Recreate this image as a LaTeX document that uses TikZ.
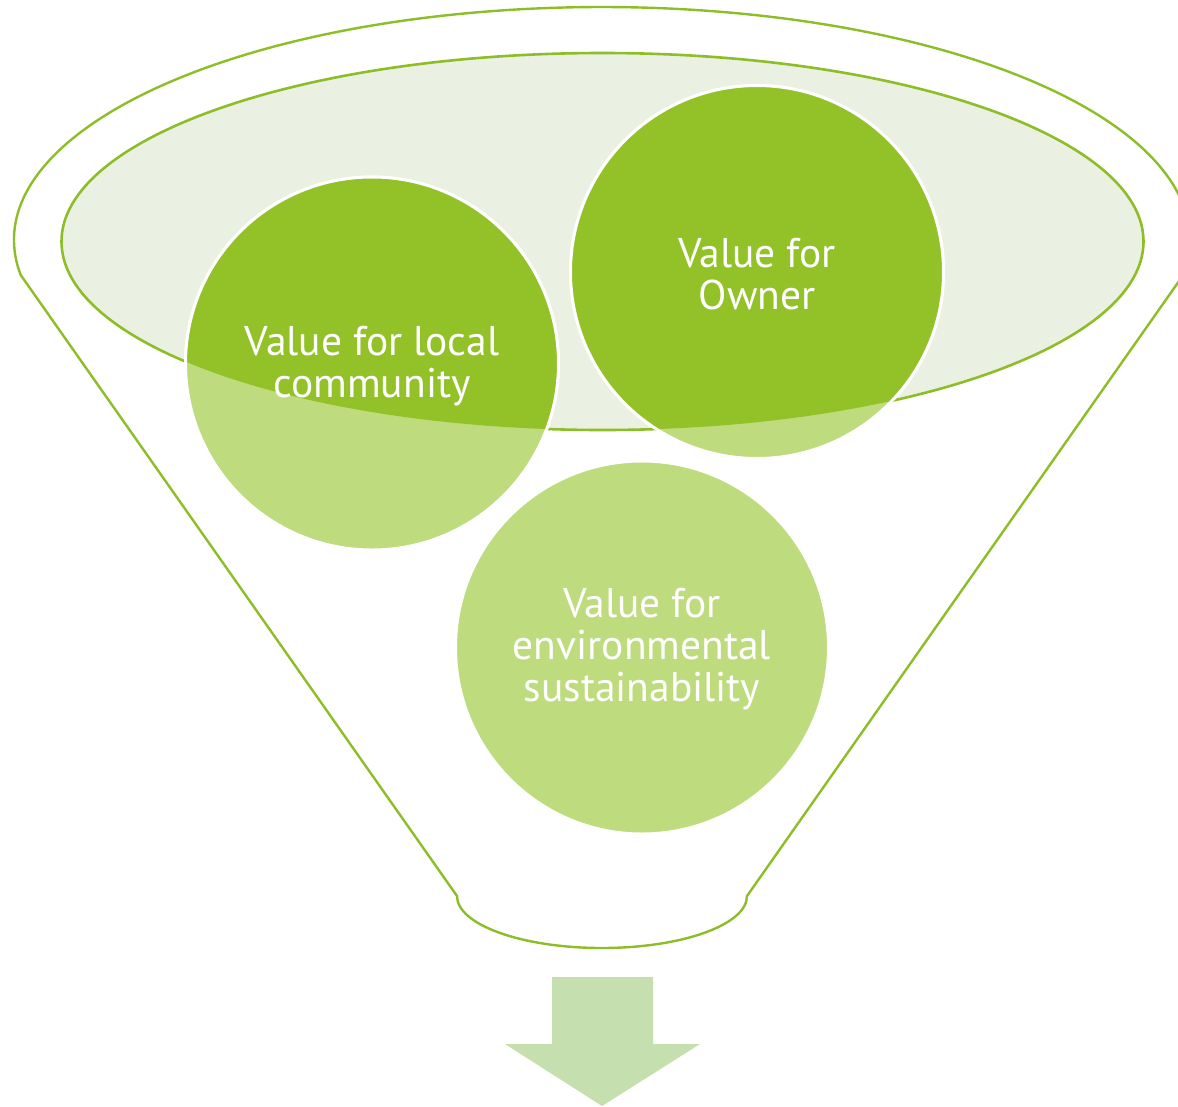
\documentclass[tikz,border=0pt]{standalone}
\usepackage{fontspec}
\setmainfont{PT Sans}
\definecolor{funnelline}{RGB}{141,190,40}
\definecolor{darkgreen}{RGB}{146,193,40}
\definecolor{lightgreen}{RGB}{190,219,126}
\definecolor{ellfill}{RGB}{234,241,226}
\definecolor{arrowfill}{RGB}{198,223,175}
\tikzset{
  funnel/.style={draw=funnelline, line width=2.4pt, line join=round},
  innerell/.style={draw=funnelline, fill=ellfill, line width=2.6pt},
  lightcirc/.style={circle, minimum size=373pt, inner sep=0pt, fill=lightgreen, draw=white, line width=3pt},
  darkcirc/.style={circle, minimum size=373pt, inner sep=0pt, fill=darkgreen, draw=white, line width=3pt},
  label/.style={text=white, align=center, font=\fontsize{41.5}{42}\selectfont, inner sep=0pt}
}
\begin{document}
\begin{tikzpicture}[x=1pt,y=-1pt]
\useasboundingbox (0,0) rectangle (1178,1106);
% outer funnel outline
\draw[funnel] (20.7,275) arc[start angle=188.64, end angle=-8.64, x radius=588pt, y radius=233pt]
  -- (747,896) arc[start angle=0, end angle=-180, x radius=145pt, y radius=52pt] -- cycle;
% inner ellipse (funnel mouth)
\draw[innerell] (602.5,241.5) ellipse [x radius=541pt, y radius=188.5pt];
% circles (light, outside the mouth)
\node[lightcirc] (cl) at (372,363.5) {};
\node[lightcirc] (co) at (757,272) {};
\node[lightcirc] (ce) at (642,647.5) {};
% circles (dark, inside the mouth)
\begin{scope}
  \clip (602.5,241.5) ellipse [x radius=541pt, y radius=188.5pt];
  \node[darkcirc] (cld) at (372,363.5) {};
  \node[darkcirc] (cod) at (757,272) {};
  \node[darkcirc] (ced) at (642,647.5) {};
\end{scope}
% labels
\node[label] (tl) at (372,366) {Value for local\\community};
\node[label] (to) at (757,274) {Value for\\Owner};
\node[label] (te) at (642,649) {Value for\\environmental\\sustainability};
% arrow
\fill[arrowfill] (552,977) coordinate (a1) -- (653,977) -- (653,1044) -- (700,1044) -- (602,1106) coordinate (atip) -- (505,1044) -- (552,1044) -- cycle;
\end{tikzpicture}
\end{document}
